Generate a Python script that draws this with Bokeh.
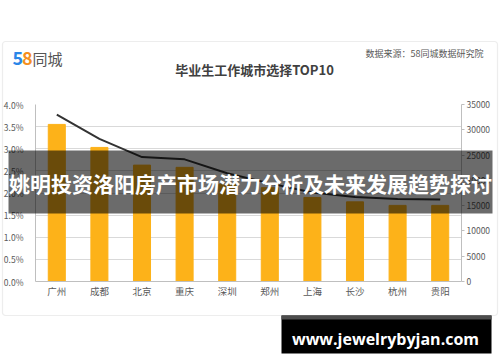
from bokeh.plotting import figure
from bokeh.models import (FactorRange, Range1d, LinearAxis, NumeralTickFormatter,
                          FixedTicker, Label, BoxAnnotation, ColumnDataSource)
from bokeh.embed import file_html
from bokeh.resources import INLINE

cities = ["广州", "成都", "北京", "重庆", "深圳", "郑州", "上海", "长沙", "杭州", "贵阳"]
share = [0.0355, 0.0303, 0.0263, 0.0258, 0.0220, 0.0212, 0.0190, 0.0180, 0.0172, 0.0172]
salary = [33000, 28200, 24600, 24150, 21400, 19400, 17600, 16700, 16300, 16200]
left_ticks = [0.0, 0.005, 0.010, 0.015, 0.020, 0.025, 0.030, 0.035, 0.040]
right_ticks = [0, 5000, 10000, 15000, 20000, 25000, 30000, 35000]

title_text = "毕业生工作城市选择TOP10"
source_text = "数据来源：58同城数据研究院"
banner_text = "姚明投资洛阳房产市场潜力分析及未来发展趋势探讨"
link_text = "www.jewelrybyjan.com"

CJK = "Noto Sans CJK SC"
GRAY = "#595959"
W, H = 500, 362

src = ColumnDataSource(dict(city=cities, share=share, salary=salary))

# ---------------- chart ----------------
p = figure(width=W, height=H, x_range=FactorRange(*cities, range_padding=0),
           y_range=Range1d(0, 0.04), output_backend="svg", toolbar_location=None,
           min_border_left=29, min_border_right=39, min_border_top=104,
           min_border_bottom=81)
p.outline_line_color = None
p.background_fill_color = "white"
p.border_fill_color = "white"
p.extra_y_ranges = {"right": Range1d(0, 35000)}

p.vbar(x="city", top="share", width=0.4, source=src, color="#FDB219")
p.line(x="city", y="salary", source=src, y_range_name="right",
       line_color="#333333", line_width=2)

p.yaxis.ticker = FixedTicker(ticks=left_ticks)
p.yaxis.formatter = NumeralTickFormatter(format="0.0%")
p.yaxis.major_tick_line_color = None
p.yaxis.minor_tick_line_color = None
p.yaxis.axis_line_color = "#bfbfbf"
p.yaxis.major_label_text_font_size = "8.5px"
p.yaxis.major_label_text_color = GRAY
p.yaxis.major_label_text_font = CJK
p.yaxis.major_label_standoff = 6

p.xaxis.major_tick_line_color = None
p.xaxis.axis_line_color = "#bfbfbf"
p.xaxis.major_label_text_font_size = "9.5px"
p.xaxis.major_label_text_color = GRAY
p.xaxis.major_label_text_font = CJK
p.xaxis.major_label_standoff = -4

ra = LinearAxis(y_range_name="right", ticker=FixedTicker(ticks=right_ticks))
ra.major_tick_out = 3
ra.major_tick_in = 0
ra.major_tick_line_color = "#bfbfbf"
ra.minor_tick_line_color = None
ra.axis_line_color = "#bfbfbf"
ra.major_label_text_font_size = "8.5px"
ra.major_label_text_color = GRAY
ra.major_label_text_font = CJK
ra.major_label_standoff = 2
p.add_layout(ra, "right")

p.xgrid.grid_line_color = None
p.ygrid.grid_line_color = "#d9d9d9"
p.ygrid.ticker = FixedTicker(ticks=left_ticks)

# ---------------- overlay (page-pixel coordinates) ----------------
o = figure(width=W, height=H, x_range=Range1d(0, W), y_range=Range1d(H, 0),
           output_backend="svg", toolbar_location=None, min_border=0,
           x_axis_location=None, y_axis_location=None)
o.grid.visible = False
o.outline_line_color = None
o.background_fill_alpha = 0
o.border_fill_alpha = 0
o.styles = {"margin-top": f"-{H}px"}

def box(l, r, t, b, **kw):
    o.add_layout(BoxAnnotation(left=l, right=r, top=t, bottom=b, **kw))

def label(x, y, text, **kw):
    o.add_layout(Label(x=x, y=y, text=text, text_baseline="middle", **kw))

box(2, 497, 41, 315, fill_alpha=0, line_color="#c4c4c4", line_width=1.2, border_radius=3)

label(12, 57.5, "5", text_font=CJK, text_font_size="18px", text_font_style="bold",
      text_color="#2A86E8")
label(21.5, 57.5, "8", text_font=CJK, text_font_size="18px", text_font_style="bold",
      text_color="#F5901E")
label(32, 58, "同城", text_font=CJK, text_font_size="15px", text_color="#555555")
label(254, 68.5, title_text, text_font=CJK, text_font_size="13px", text_font_style="bold",
      text_color="#404040", text_align="center")
label(483, 53, source_text, text_font=CJK, text_font_size="9px", text_color=GRAY,
      text_align="right")

box(8, 492, 150, 213, fill_color="black", fill_alpha=0.58, line_color=None)
label(250, 182, banner_text, text_font=CJK, text_font_size="21px", text_font_style="bold",
      text_color="white", text_align="center")

box(281, 491, 315, 353, fill_color="black", fill_alpha=1, line_color=None)
box(281, 491, 315, 319, fill_color="#4d4d4d", fill_alpha=1, line_color=None)
label(385, 338, link_text, text_font="Open Sans", text_font_size="16px",
      text_font_style="bold", text_color="white", text_align="center")

open("out.html", "w").write(file_html([p, o], INLINE))
